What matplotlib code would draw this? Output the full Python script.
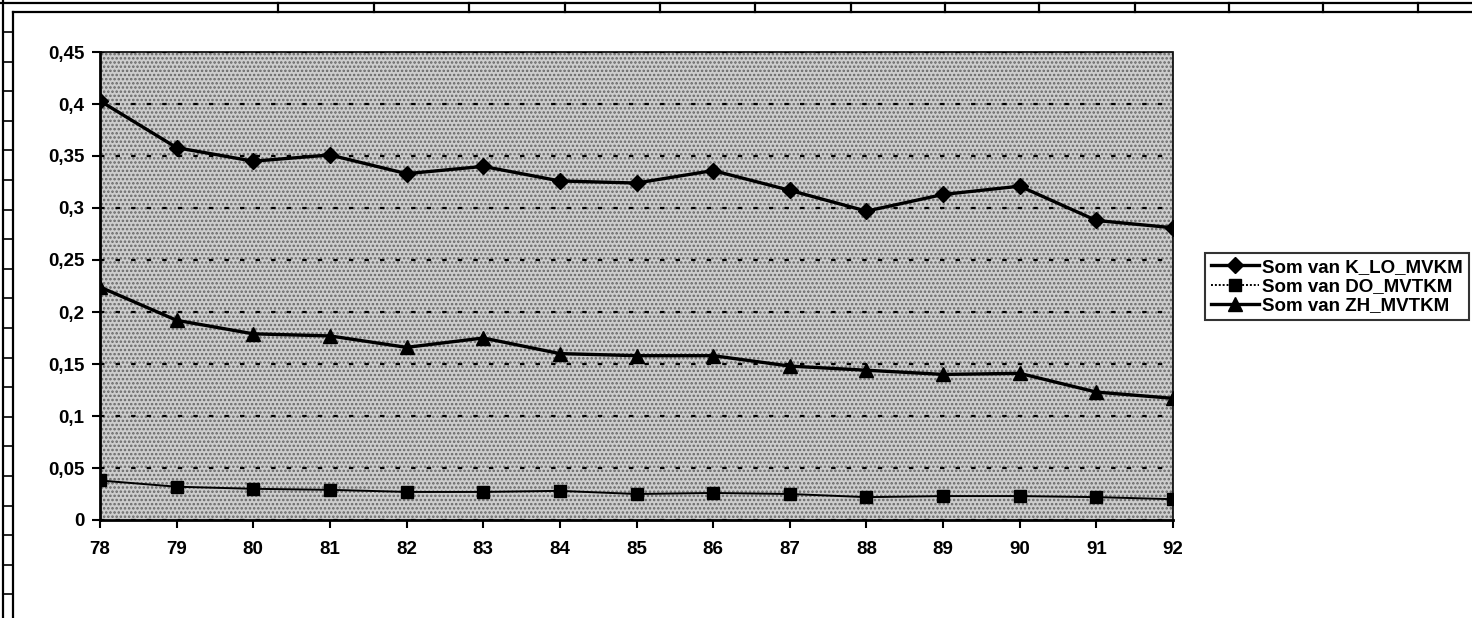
"""Recreation of a scanned spreadsheet line chart (Som van ... per year)."""

import matplotlib.pyplot as plt
import numpy as np
from matplotlib.lines import Line2D
from matplotlib.patches import Rectangle
from matplotlib.ticker import FuncFormatter, MultipleLocator

plt.rcParams["font.family"] = ["Liberation Sans", "DejaVu Sans"]
plt.rcParams["font.weight"] = "bold"
plt.rcParams["hatch.linewidth"] = 1.2

years = ["78", "79", "80", "81", "82", "83", "84", "85", "86", "87", "88", "89", "90", "91", "92"]
k_lo_mvkm = [0.403, 0.358, 0.345, 0.351, 0.333, 0.340, 0.326, 0.324, 0.336, 0.317,
             0.297, 0.313, 0.321, 0.288, 0.281]
do_mvtkm = [0.038, 0.032, 0.030, 0.029, 0.027, 0.027, 0.028, 0.025, 0.026, 0.025,
            0.022, 0.023, 0.023, 0.022, 0.020]
zh_mvtkm = [0.224, 0.192, 0.179, 0.177, 0.166, 0.175, 0.160, 0.158, 0.158, 0.148,
            0.144, 0.140, 0.141, 0.123, 0.117]
series_labels = ["Som van K_LO_MVKM", "Som van DO_MVTKM", "Som van ZH_MVTKM"]

W, H = 1472, 618
fig = plt.figure(figsize=(W / 100, H / 100), dpi=100)


def fx(px):
    return px / W


def fy(py):
    return 1 - py / H


# spreadsheet grid remnants around the chart object
deco = dict(color="black", linewidth=1.6, transform=fig.transFigure)
fig.add_artist(Line2D([0, 1], [fy(3), fy(3)], **deco))
fig.add_artist(Line2D([fx(13), 1], [fy(12), fy(12)], **deco))
fig.add_artist(Line2D([fx(3), fx(3)], [0, 1], **deco))
fig.add_artist(Line2D([fx(13), fx(13)], [0, fy(12)], **deco))
for cx in [278, 374, 469, 565, 660, 755, 851, 945, 1039, 1135, 1229, 1323, 1418]:
    fig.add_artist(Line2D([fx(cx), fx(cx)], [fy(3), fy(12)], **deco))
for ry in np.arange(32, 618, 29.6):
    fig.add_artist(Line2D([fx(3), fx(13)], [fy(ry), fy(ry)], color="black",
                          linewidth=1.2, transform=fig.transFigure))

ax = fig.add_axes([fx(100), fy(520), fx(1173) - fx(100), fy(52) - fy(520)])
ax.set_facecolor("#cdcdcd")
ax.add_patch(Rectangle((0, 0), 1, 1, transform=ax.transAxes, facecolor="none",
                       edgecolor="#666666", linewidth=0, hatch="....", zorder=0))

x = np.arange(len(years))
ax.plot(x, k_lo_mvkm, color="black", linewidth=2.4, marker="D", markersize=8,
        label=series_labels[0], zorder=4)
ax.plot(x, do_mvtkm, color="black", linewidth=1.4, marker="s", markersize=9,
        label=series_labels[1], zorder=4)
ax.plot(x, zh_mvtkm, color="black", linewidth=2.4, marker="^", markersize=10,
        label=series_labels[2], zorder=4)

ax.set_xlim(0, len(years) - 1)
ax.set_ylim(0, 0.45)
ax.set_xticks(x)
ax.set_xticklabels(years)
ax.yaxis.set_major_locator(MultipleLocator(0.05))
ax.yaxis.set_major_formatter(
    FuncFormatter(lambda v, _: f"{round(v, 2):g}".replace(".", ",")))
ax.tick_params(axis="both", labelsize=13.5, width=1.5, length=6, direction="out",
               colors="black")
ax.tick_params(axis="x", pad=9)
ax.tick_params(axis="y", pad=5)

ax.grid(axis="y", color="black", linestyle=(0, (2, 5)), linewidth=1.6)
ax.set_axisbelow(True)
for side in ("left", "bottom"):
    ax.spines[side].set_linewidth(2)
for side in ("top", "right"):
    ax.spines[side].set_linestyle((0, (1, 1)))
    ax.spines[side].set_linewidth(1.2)

legend = fig.legend(loc="upper left", bbox_to_anchor=(fx(1205), fy(253)),
                    fontsize=13.5, frameon=True, fancybox=False, handlelength=2.6,
                    handletextpad=0.15, labelspacing=0.12, borderpad=0.3,
                    borderaxespad=0)
legend.get_frame().set_edgecolor("black")
legend.get_frame().set_linewidth(1.5)
legend.get_lines()[1].set_linestyle((0, (1, 1)))

fig.savefig("out.png", dpi=100)
